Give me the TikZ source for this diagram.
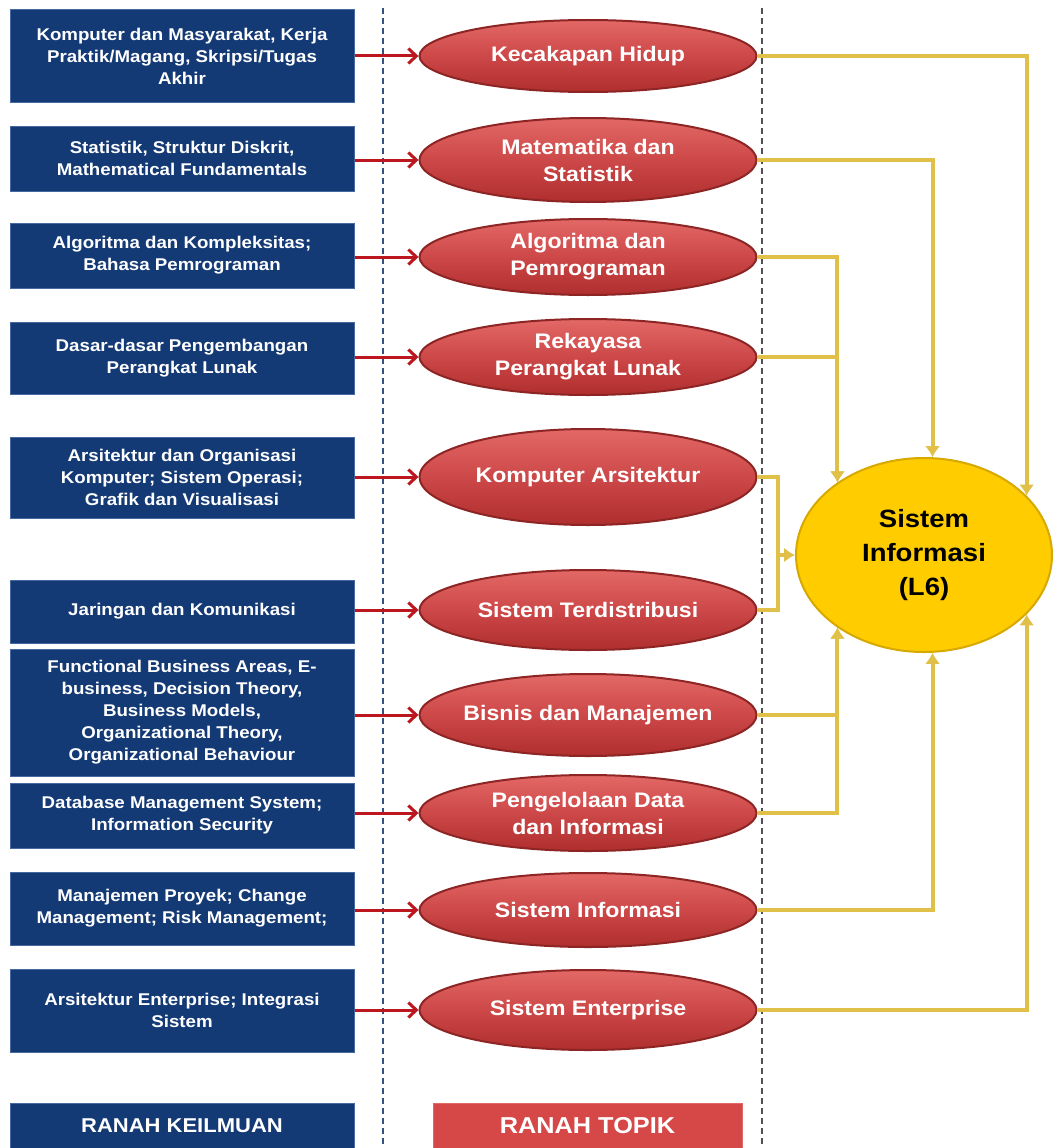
\documentclass[tikz,border=0pt]{standalone}
\usepackage{fontspec}
\newfontfamily\sifont[FakeStretch=1.1]{Liberation Sans}
\usepackage{tikz}
\usetikzlibrary{arrows.meta,shapes.geometric}
\definecolor{biru}{RGB}{20,58,118}
\definecolor{birutepi}{RGB}{70,105,160}
\definecolor{merahmuda}{RGB}{226,104,102}
\definecolor{merahtua}{RGB}{176,46,46}
\definecolor{merahpanah}{RGB}{188,22,30}
\definecolor{kuningisi}{RGB}{255,204,0}
\definecolor{kuninggaris}{RGB}{224,192,72}
\definecolor{garisbiru}{RGB}{50,82,130}
\definecolor{garisabu}{RGB}{82,80,88}

\begin{document}
\begin{tikzpicture}[x=1pt,y=-1pt,
  ilmu/.style={fill=biru,draw=birutepi,line width=1pt,minimum width=344pt,inner sep=0pt,align=center,text=white,
    font=\sifont\bfseries\fontsize{17}{22}\selectfont},
  topik/.style={ellipse,draw=merahtua!80!black,line width=2pt,top color=merahmuda,bottom color=merahtua,
    middle color={rgb,255:red,205;green,72;blue,72},minimum width=337pt,minimum height=76pt,inner ysep=0pt,
    inner xsep=-12pt,align=center,text=white,font=\sifont\bfseries\fontsize{21}{27}\selectfont},
  panahmerah/.style={draw=merahpanah,line width=3pt,-{Straight Barb[length=8pt,width=15pt]}},
  kuning/.style={draw=kuninggaris,line width=4pt,-{Latex[length=11pt,width=15pt]}},
  pemisah/.style={line width=2.5pt,dash pattern=on 6pt off 4pt}]
\useasboundingbox (0,0) rectangle (1059,1148);

% garis pemisah
\draw[pemisah,draw=garisbiru] (383,8) -- (383,1148);
\draw[pemisah,draw=garisabu] (762,8) -- (762,1148);

% ranah keilmuan
\node[ilmu,minimum height=92pt] (k1) at (182,56) {Komputer dan Masyarakat, Kerja\\Praktik/Magang, Skripsi/Tugas\\Akhir};
\node[ilmu,minimum height=65pt] (k2) at (182,158.5) {Statistik, Struktur Diskrit,\\Mathematical Fundamentals};
\node[ilmu,minimum height=65pt] (k3) at (182,255.5) {Algoritma dan Kompleksitas;\\Bahasa Pemrograman};
\node[ilmu,minimum height=72pt] (k4) at (182,358) {Dasar-dasar Pengembangan\\Perangkat Lunak};
\node[ilmu,minimum height=81pt] (k5) at (182,477.5) {Arsitektur dan Organisasi\\Komputer; Sistem Operasi;\\Grafik dan Visualisasi};
\node[ilmu,minimum height=63pt] (k6) at (182,611.5) {Jaringan dan Komunikasi};
\node[ilmu,minimum height=127pt] (k7) at (182,712.5) {Functional Business Areas, E-\\business, Decision Theory,\\Business Models,\\Organizational Theory,\\Organizational Behaviour};
\node[ilmu,minimum height=65pt] (k8) at (182,815.5) {Database Management System;\\Information Security};
\node[ilmu,minimum height=73pt] (k9) at (182,908.5) {Manajemen Proyek; Change\\Management; Risk Management;};
\node[ilmu,minimum height=83pt] (k10) at (182,1010.5) {Arsitektur Enterprise; Integrasi\\Sistem};
\node[ilmu,minimum height=45pt,font=\sifont\bfseries\fontsize{20}{24}\selectfont] (rk) at (182,1125.5) {RANAH KEILMUAN};

% ranah topik
\node[topik,minimum height=72pt] (t1) at (588,56) {Kecakapan Hidup};
\node[topik,minimum height=84pt] (t2) at (588,160) {Matematika dan\\Statistik};
\node[topik] (t3) at (588,257) {Algoritma dan\\Pemrograman};
\node[topik] (t4) at (588,357) {Rekayasa\\Perangkat Lunak};
\node[topik,minimum height=96pt] (t5) at (588,477) {Komputer Arsitektur};
\node[topik,minimum height=80pt] (t6) at (588,610) {Sistem Terdistribusi};
\node[topik,minimum height=82pt] (t7) at (588,715) {Bisnis dan Manajemen};
\node[topik] (t8) at (588,813) {Pengelolaan Data\\dan Informasi};
\node[topik,minimum height=74pt] (t9) at (588,910) {Sistem Informasi};
\node[topik,minimum height=80pt] (t10) at (588,1010) {Sistem Enterprise};
\node[fill={rgb,255:red,214;green,72;blue,72},draw=merahmuda,line width=1pt,minimum width=309pt,minimum height=45pt,
  text=white,font=\sifont\bfseries\fontsize{23}{27}\selectfont] (rt) at (587.5,1125.5) {RANAH TOPIK};

% sistem informasi
\node[ellipse,fill=kuningisi,draw={rgb,255:red,214;green,168;blue,0},line width=2pt,minimum width=256pt,
  minimum height=194pt,inner sep=0pt,align=center,font=\sifont\bfseries\fontsize{25}{34}\selectfont] (si) at (924,555)
  {Sistem\\Informasi\\(L6)};

\foreach \i in {1,...,10}
  \draw[panahmerah] (k\i.east |- t\i.west) -- (t\i.west);

\draw[kuning] (t1.east) -| (si.30);
\draw[kuning] (t2.east) -| (si.85);
\draw[kuning] (t3.east) -| (si.140);
\draw[kuning] (t4.east) -| (si.140);
\draw[kuning,-] (t5.east) -- ++(20,0) coordinate (kurung) |- (t6.east);
\draw[kuning] (kurung |- si.west) -- (si.west);
\draw[kuning] (t7.east) -| (si.-140);
\draw[kuning] (t8.east) -| (si.-140);
\draw[kuning] (t9.east) -| (si.-85);
\draw[kuning] (t10.east) -| (si.-30);
\end{tikzpicture}
\end{document}
